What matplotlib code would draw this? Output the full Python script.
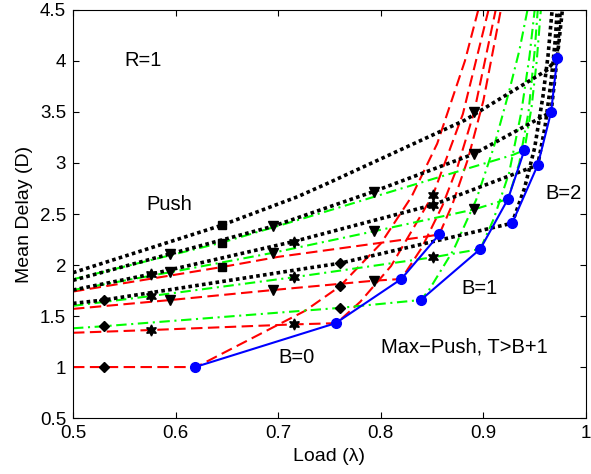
import numpy as np
import matplotlib
matplotlib.use("Agg")
import matplotlib.pyplot as plt

plt.rcParams['font.family'] = ['Liberation Sans', 'DejaVu Sans']

# ---- Push curves, B = 0 (red), T = 1..4 ----
r1_x = [0.50, 0.53, 0.62, 0.726, 0.76, 0.80, 0.83, 0.855, 0.882, 0.895, 0.900]
r1_y = [1.00, 1.00, 1.00, 1.55, 1.79, 2.21, 2.67, 3.19, 4.00, 4.50, 4.70]
r2_x = [0.50, 0.576, 0.715, 0.757, 0.78, 0.81, 0.851, 0.88, 0.905, 0.909]
r2_y = [1.336, 1.363, 1.418, 1.43, 1.64, 1.99, 2.69, 3.48, 4.50, 4.70]
r3_x = [0.50, 0.595, 0.695, 0.793, 0.82, 0.84, 0.86, 0.875, 0.891, 0.912, 0.916]
r3_y = [1.57, 1.657, 1.755, 1.846, 1.863, 2.17, 2.58, 2.97, 3.50, 4.50, 4.70]
r4_x = [0.50, 0.645, 0.70, 0.845, 0.857, 0.87, 0.885, 0.90, 0.917, 0.920]
r4_y = [1.74, 1.98, 2.08, 2.28, 2.30, 2.60, 3.04, 3.61, 4.50, 4.70]

# ---- Push curves, B = 1 (green), T = 1..4 ----
g1_x = [0.50, 0.53, 0.76, 0.839, 0.847, 0.871, 0.893, 0.91, 0.925, 0.935, 0.943, 0.946]
g1_y = [1.38, 1.40, 1.58, 1.657, 1.755, 2.15, 2.64, 3.15, 3.70, 4.10, 4.50, 4.70]
g2_x = [0.50, 0.576, 0.715, 0.851, 0.897, 0.91, 0.925, 0.937, 0.945, 0.950, 0.952]
g2_y = [1.60, 1.696, 1.88, 2.076, 2.157, 2.45, 2.90, 3.50, 4.05, 4.50, 4.70]
g3_x = [0.50, 0.595, 0.695, 0.793, 0.891, 0.924, 0.935, 0.944, 0.950, 0.953, 0.955]
g3_y = [1.755, 1.93, 2.12, 2.33, 2.545, 2.647, 3.00, 3.50, 4.10, 4.50, 4.70]
g4_x = [0.50, 0.645, 0.719, 0.82, 0.929, 0.940, 0.947, 0.952, 0.956, 0.958]
g4_y = [1.86, 2.22, 2.44, 2.75, 3.08, 3.127, 3.55, 4.00, 4.50, 4.70]

# ---- Push curves, B = 2 (black), T = 1..4 ----
k1_x = [0.50, 0.53, 0.729, 0.76, 0.928, 0.94, 0.95, 0.958, 0.963, 0.967, 0.969]
k1_y = [1.624, 1.657, 1.97, 2.017, 2.41, 2.75, 3.15, 3.65, 4.05, 4.50, 4.70]
k2_x = [0.50, 0.576, 0.715, 0.851, 0.953, 0.960, 0.966, 0.970, 0.972, 0.973]
k2_y = [1.755, 1.91, 2.23, 2.59, 2.98, 3.35, 3.80, 4.20, 4.50, 4.70]
k3_x = [0.50, 0.595, 0.695, 0.793, 0.891, 0.966, 0.971, 0.975, 0.976]
k3_y = [1.85, 2.11, 2.38, 2.72, 3.09, 3.50, 3.95, 4.50, 4.70]
k4_x = [0.50, 0.645, 0.719, 0.748, 0.882, 0.962, 0.972, 0.977, 0.978]
k4_y = [1.925, 2.39, 2.67, 2.80, 3.42, 3.91, 4.03, 4.50, 4.70]

# ---- Max-Push, T > B+1 (blue) ----
mp0_x = [0.619, 0.756, 0.820, 0.857]
mp0_y = [1.00, 1.43, 1.863, 2.30]
mp1_x = [0.839, 0.897, 0.924, 0.940]
mp1_y = [1.657, 2.157, 2.647, 3.127]
mp2_x = [0.928, 0.953, 0.966, 0.972]
mp2_y = [2.41, 2.98, 3.50, 4.03]

# marker loads for each threshold T
mark_t1 = [0.53, 0.76]
mark_t2 = [0.576, 0.715, 0.851]
mark_t3 = [0.595, 0.695, 0.793, 0.891]
mark_t4 = [0.645]

x_ticks = [0.5, 0.6, 0.7, 0.8, 0.9, 1.0]
x_tick_labels = ['0.5', '0.6', '0.7', '0.8', '0.9', '1']
y_ticks = [0.5, 1.0, 1.5, 2.0, 2.5, 3.0, 3.5, 4.0, 4.5]
y_tick_labels = ['0.5', '1', '1.5', '2', '2.5', '3', '3.5', '4', '4.5']

fig = plt.figure(figsize=(5.91, 4.74), dpi=100)
ax = fig.add_axes([0.1235, 0.118, 0.868, 0.861])

styles = {
    'r': dict(color=(1, 0, 0), lw=1.5, dashes=(5.5, 2.6)),
    'g': dict(color=(0, 1, 0), lw=1.5, dashes=(5.0, 2.2, 1.0, 2.2)),
    'k': dict(color='k', lw=2.6, dashes=(1.0, 0.9)),
}
families = {
    'r': [(r1_x, r1_y), (r2_x, r2_y), (r3_x, r3_y), (r4_x, r4_y)],
    'g': [(g1_x, g1_y), (g2_x, g2_y), (g3_x, g3_y), (g4_x, g4_y)],
    'k': [(k1_x, k1_y), (k2_x, k2_y), (k3_x, k3_y), (k4_x, k4_y)],
}
markers = [('D', 5.0, mark_t1), ((6, 1, 0), 8.0, mark_t2),
           ('v', 6.5, mark_t3), ('s', 5.5, mark_t4)]

for fam in ['r', 'g', 'k']:
    for (cx, cy), (mk, ms, mx) in zip(families[fam], markers):
        ax.plot(cx, cy, **styles[fam], zorder=2)
        my = np.interp(mx, cx, cy)
        ax.plot(mx, my, linestyle='none', marker=mk, markersize=ms,
                color='k', markeredgecolor='k', zorder=3)

for bx, by in [(mp0_x, mp0_y), (mp1_x, mp1_y), (mp2_x, mp2_y)]:
    ax.plot(bx, by, color=(0, 0, 1), lw=1.5, marker='o', markersize=7,
            markerfacecolor=(0, 0, 1), markeredgecolor=(0, 0, 1), zorder=4)

ax.set_xlim(0.5, 1.0)
ax.set_ylim(0.5, 4.5)
ax.set_xticks(x_ticks)
ax.set_xticklabels(x_tick_labels)
ax.set_yticks(y_ticks)
ax.set_yticklabels(y_tick_labels)
ax.tick_params(direction='in', top=True, right=True, length=4, width=0.8,
               labelsize=13.5, pad=5)
for s in ax.spines.values():
    s.set_linewidth(0.8)

ax.set_xlabel('Load (λ)', fontsize=14, labelpad=4)
ax.set_ylabel('Mean Delay (D)', fontsize=14, labelpad=5)

fs = 14.5
ax.text(0.550, 4.0, 'R=1', fontsize=fs, va='center', ha='left')
ax.text(0.5715, 2.59, 'Push', fontsize=fs, va='center', ha='left')
ax.text(0.700, 1.09, 'B=0', fontsize=fs, va='center', ha='left')
ax.text(0.879, 1.77, 'B=1', fontsize=fs, va='center', ha='left')
ax.text(0.960, 2.70, 'B=2', fontsize=fs, va='center', ha='left')
ax.text(0.800, 1.20, 'Max\u2212Push, T>B+1', fontsize=fs, va='center', ha='left')

fig.savefig('out.png', dpi=100)
